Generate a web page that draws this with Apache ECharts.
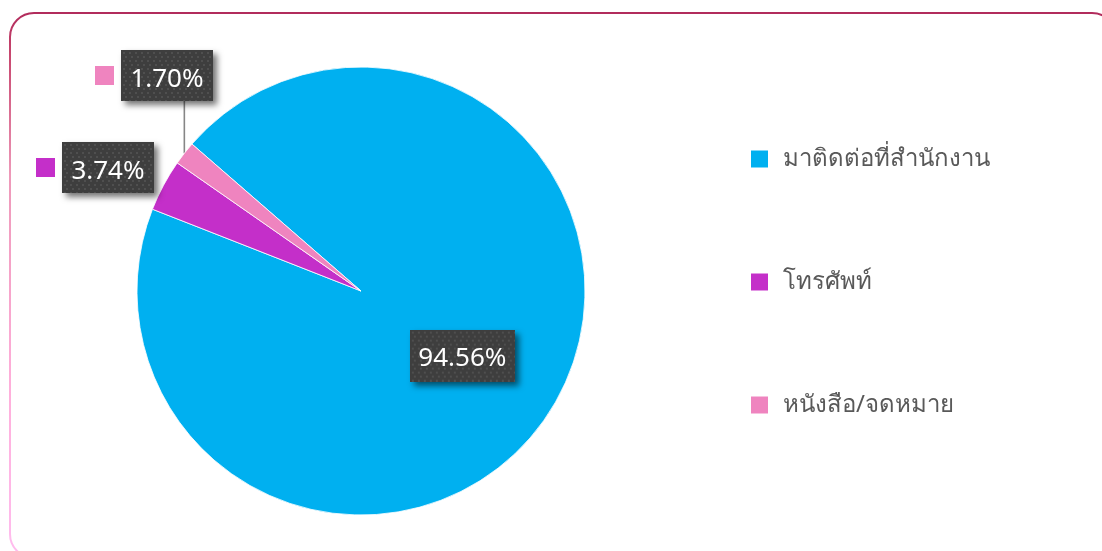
<!DOCTYPE html>
<html>
<head>
<meta charset="utf-8">
<script src="https://cdn.jsdelivr.net/npm/echarts@6/dist/echarts.min.js"></script>
<style>
  html, body { margin: 0; padding: 0; background: #fff; }
  #chart { width: 1102px; height: 551px; }
</style>
</head>
<body>
<div id="chart"></div>
<script>
// Contact channels and their shares (percent)
const categories = ['มาติดต่อที่สำนักงาน', 'โทรศัพท์', 'หนังสือ/จดหมาย'];
const shares = [94.56, 3.74, 1.70];
const colors = ['#00B0F0', '#C42FC9', '#EF84BF'];

const FONT = '"Noto Sans", "Open Sans", sans-serif';

// Pie geometry
const CENTER = [361, 291];
const RADIUS = 224;
const START_ANGLE = 139;

// Dark dotted texture for the value boxes
function dottedTile(w, h) {
  const c = document.createElement('canvas');
  c.width = w; c.height = h;
  const g = c.getContext('2d');
  g.fillStyle = '#3E3E3E';
  g.fillRect(0, 0, w, h);
  g.fillStyle = '#4F4F4F';
  for (let y = 2, row = 0; y < h; y += 4, row++) {
    for (let x = (row % 2 ? 4 : 2); x < w; x += 6) {
      g.fillRect(x, y, 2, 2);
    }
  }
  return c;
}

// w x h is the full box; padTop nudges the digits down inside it
function boxStyle(w, h, padTop) {
  return {
    width: w, height: h - padTop,
    padding: [padTop, 0, 0, 0],
    align: 'center', verticalAlign: 'middle',
    color: '#FFFFFF', fontSize: 26, fontFamily: FONT,
    backgroundColor: { image: dottedTile(w, h) },
    shadowColor: 'rgba(0,0,0,0.55)', shadowBlur: 6,
    shadowOffsetX: 4, shadowOffsetY: 4
  };
}

function fmt(v) { return v.toFixed(2) + '%'; }

// Point on the rim at the middle of slice i (clockwise from START_ANGLE)
function rimPoint(i) {
  const total = shares.reduce((a, b) => a + b, 0);
  let before = 0;
  for (let k = 0; k < i; k++) before += shares[k];
  const mid = (before + shares[i] / 2) / total * 360;
  const a = (START_ANGLE - mid) * Math.PI / 180;
  return [CENTER[0] + RADIUS * Math.cos(a), CENTER[1] - RADIUS * Math.sin(a)];
}

const data = categories.map((name, i) => {
  const item = { name, value: shares[i], itemStyle: { color: colors[i] } };
  if (i === 0) {
    item.label = {
      position: 'inside',
      offset: [3, 5],
      formatter: '{box|' + fmt(shares[i]) + '}',
      rich: { box: boxStyle(105, 52, 6) }
    };
    item.labelLine = { show: false };
  } else {
    item.label = {
      position: 'outside',
      formatter: '{sq| }{gap| }{box|' + fmt(shares[i]) + '}',
      rich: {
        sq: { width: 19, height: 19, backgroundColor: colors[i], verticalAlign: 'middle' },
        gap: { width: 7, verticalAlign: 'middle' },
        box: boxStyle(92, 51, 8)
      }
    };
    item.labelLine = { show: i === 2, lineStyle: { color: '#868686', width: 1.6 } };
  }
  return item;
});

// Where the outside value boxes sit (left edge of the colour key, vertical middle)
const outsideLabelPos = { 1: [36, 167.5], 2: [95, 75.5] };
const BOX_HALF_HEIGHT = 25.5;

const chart = echarts.init(document.getElementById('chart'), null, { renderer: 'canvas' });
chart.setOption({
  animation: false,
  backgroundColor: '#FFFFFF',
  graphic: [{
    type: 'rect',
    silent: true,
    shape: { x: 10, y: 13, width: 1106, height: 545, r: 24 },
    style: {
      fill: 'none',
      lineWidth: 2,
      stroke: new echarts.graphic.LinearGradient(0, 0, 0, 1, [
        { offset: 0, color: '#B02A5B' },
        { offset: 0.08, color: '#C8476F' },
        { offset: 0.3, color: '#EE99B9' },
        { offset: 0.7, color: '#FFB0DC' },
        { offset: 1, color: '#FFBDEF' }
      ])
    }
  }],
  legend: {
    orient: 'vertical',
    left: 749,
    top: 147,
    padding: 0,
    itemWidth: 19,
    itemHeight: 19,
    itemGap: 99,
    icon: 'rect',
    textStyle: { color: '#595959', fontSize: 24, fontFamily: FONT, padding: [0, 0, 0, 9] },
    data: categories
  },
  series: [{
    type: 'pie',
    center: CENTER,
    radius: RADIUS,
    startAngle: START_ANGLE,
    clockwise: true,
    avoidLabelOverlap: false,
    itemStyle: { borderColor: '#FFFFFF', borderWidth: 0.8 },
    label: { show: true },
    labelLine: { show: true, length: 10, length2: 10 },
    labelLayout: function (params) {
      const i = params.dataIndex;
      const p = outsideLabelPos[i];
      if (!p) return {};
      const out = { x: p[0], y: p[1], align: 'left', verticalAlign: 'middle' };
      if (i === 2) {
        // vertical leader from the slice rim up to the bottom of the value box
        const rim = rimPoint(i);
        const top = p[1] + BOX_HALF_HEIGHT;
        out.labelLinePoints = [rim, [rim[0], (rim[1] + top) / 2], [rim[0], top]];
      }
      return out;
    },
    emphasis: { disabled: true },
    data: data
  }]
});
</script>
</body>
</html>
